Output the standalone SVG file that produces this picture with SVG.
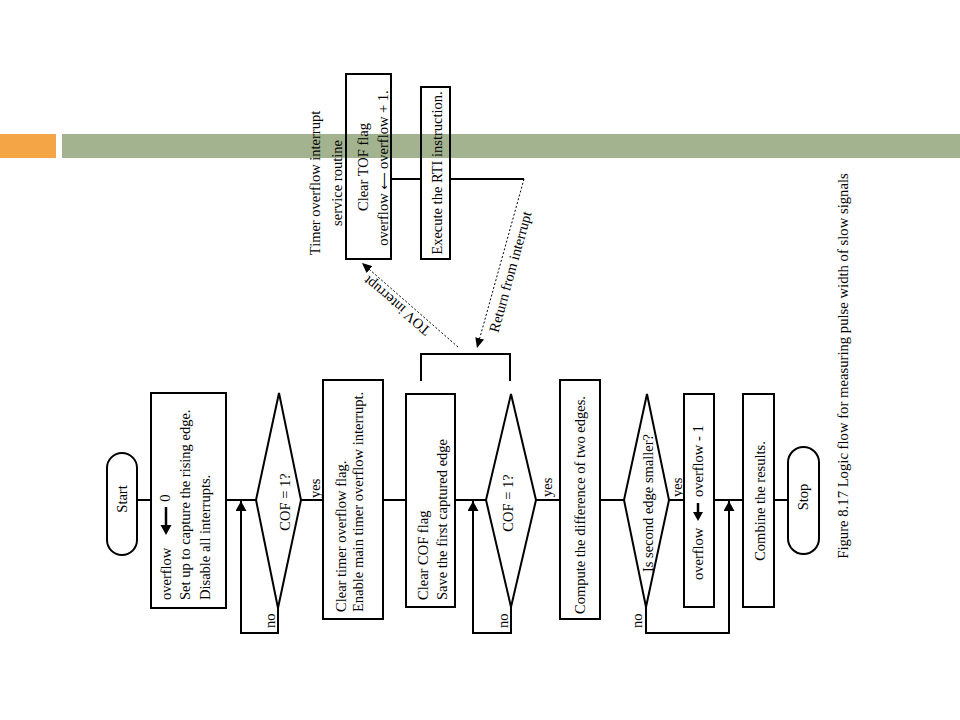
<svg xmlns="http://www.w3.org/2000/svg" width="960" height="720" viewBox="0 0 960 720">
<style>
text{font-family:"Liberation Serif","Times New Roman",serif;font-size:14.5px;fill:#000}
.m{text-anchor:middle}
.s{text-anchor:start}
.box{fill:#fff;stroke:#000;stroke-width:2}
.isr{fill:none;stroke:#000;stroke-width:2}
.ln{fill:none;stroke:#000;stroke-width:2}
.dash{fill:none;stroke:#000;stroke-width:1;stroke-dasharray:2 2}
.cap{font-size:14.7px}
.arr{font-family:"DejaVu Sans",sans-serif;font-size:12px}
</style>
<defs>
<marker id="ah" markerUnits="userSpaceOnUse" markerWidth="11" markerHeight="11" refX="10" refY="5.5" orient="auto" viewBox="0 0 11 11">
<path d="M0,0 L10,5.5 L0,11 Z" fill="#000"/>
</marker>
<marker id="ahs" markerUnits="userSpaceOnUse" markerWidth="10" markerHeight="9" refX="10" refY="4.5" orient="auto" viewBox="0 0 10 9">
<path d="M0,0 L10,4.5 L0,9 Z" fill="#000"/>
</marker>
</defs>
<rect x="0" y="134" width="56" height="24" fill="#F4A646"/>
<rect x="62" y="134" width="898" height="24" fill="#A3B38F"/>

<g id="connectors">
<path class="ln" d="M137,500 H151"/>
<path class="ln" d="M226,500 H256"/>
<path class="ln" d="M301,500 H323"/>
<path class="ln" d="M383,500 H406"/>
<path class="ln" d="M455,500 H486"/>
<path class="ln" d="M536,500 H560"/>
<path class="ln" d="M600,500 H624"/>
<path class="ln" d="M669,500 H684"/>
<path class="ln" d="M714,500 H743"/>
<path class="ln" d="M774,500 H788"/>
<path class="ln" d="M278,608 V633 H241 V501" marker-end="url(#ah)"/>
<path class="ln" d="M511,607 V633 H473 V501" marker-end="url(#ah)"/>
<path class="ln" d="M646,607 V633 H729 V501" marker-end="url(#ah)"/>
<path class="ln" d="M421,381 V354 H510 V381"/>
<path class="ln" d="M391,179 H421"/>
<path class="ln" d="M450,179 H524"/>
<path class="dash" d="M458,347 L362,263" marker-end="url(#ahs)"/>
<path class="dash" d="M524,179 L477,348" marker-end="url(#ahs)"/>
<text class="m" transform="translate(400,302) rotate(220.5)">TOV interrupt</text>
<text class="m" transform="translate(515,273) rotate(-74.5)">Return from interrupt</text>
<text class="s" transform="translate(320,498) rotate(-90)">yes</text>
<text class="s" transform="translate(275,628) rotate(-90)">no</text>
<text class="s" transform="translate(552,497) rotate(-90)">yes</text>
<text class="s" transform="translate(508,628) rotate(-90)">no</text>
<text class="s" transform="translate(682,497) rotate(-90)">yes</text>
<text class="s" transform="translate(642,628) rotate(-90)">no</text>
</g>

<g id="start">
<rect class="box" x="107" y="453" width="30" height="102" rx="15" ry="15"/>
<text class="m" transform="translate(127,499) rotate(-90)">Start</text>
</g>

<g id="init">
<rect class="box" x="151" y="393" width="75" height="215"/>
<text class="s" transform="translate(171,600) rotate(-90)">overflow</text>
<path d="M166,507 V526" stroke="#000" stroke-width="2.5"/>
<path d="M160.5,525 H171.5 L166,535 Z" fill="#000"/>
<text class="m" transform="translate(170,498) rotate(-90)">0</text>
<text class="s" transform="translate(190,600) rotate(-90)">Set up to capture the rising edge.</text>
<text class="s" transform="translate(210,600) rotate(-90)">Disable all interrupts.</text>
</g>

<g id="cof1">
<path class="box" d="M279,393 L301,500 L278,608 L256,500 Z"/>
<text class="m" transform="translate(290,502) rotate(-90)">COF = 1?</text>
</g>

<g id="enable">
<rect class="box" x="323" y="380" width="60" height="239"/>
<text class="s" transform="translate(346,612) rotate(-90)">Clear timer overflow flag.</text>
<text class="s" transform="translate(363,612) rotate(-90)">Enable main timer overflow interrupt.</text>
</g>

<g id="save">
<rect class="box" x="406" y="394" width="49" height="213"/>
<text class="s" transform="translate(428,600) rotate(-90)">Clear COF flag</text>
<text class="s" transform="translate(447,600) rotate(-90)">Save the first captured edge</text>
</g>

<g id="cof2">
<path class="box" d="M511,394 L536,500 L511,607 L486,500 Z"/>
<text class="m" transform="translate(513,503) rotate(-90)">COF = 1?</text>
</g>

<g id="compute">
<rect class="box" x="560" y="380" width="40" height="239"/>
<text class="m" transform="translate(585,505) rotate(-90)">Compute the difference of two edges.</text>
</g>

<g id="smaller">
<path class="box" d="M647,394 L669,500 L646,607 L624,500 Z"/>
<text class="m" transform="translate(653,503) rotate(-90)">Is second edge smaller?</text>
</g>

<g id="decrement">
<rect class="box" x="684" y="394" width="30" height="213"/>
<text class="s" transform="translate(703,580) rotate(-90)">overflow</text>
<path d="M698,503 V513" stroke="#000" stroke-width="2.5"/>
<path d="M693,512 H703 L698,521 Z" fill="#000"/>
<text class="s" transform="translate(703,497) rotate(-90)">overflow - 1</text>
</g>

<g id="combine">
<rect class="box" x="743" y="394" width="31" height="213"/>
<text class="m" transform="translate(765,501) rotate(-90)">Combine the results.</text>
</g>

<g id="stop">
<rect class="box" x="788" y="447" width="31" height="107" rx="15.5" ry="15.5"/>
<text class="m" transform="translate(808,497) rotate(-90)">Stop</text>
</g>

<g id="isr-title">
<text class="m" transform="translate(320,183) rotate(-90)">Timer overflow interrupt</text>
<text class="m" transform="translate(342,183) rotate(-90)">service routine</text>
</g>

<g id="isr">
<rect class="isr" x="346" y="74" width="45" height="185"/>
<text class="m" transform="translate(368,167) rotate(-90)">Clear TOF flag</text>
<text class="m" transform="translate(388,168) rotate(-90)">overflow <tspan class="arr">⟵</tspan> overflow + 1.</text>
</g>

<g id="rti">
<rect class="isr" x="421" y="87" width="29" height="172"/>
<text class="m" transform="translate(442,173) rotate(-90)">Execute the RTI instruction.</text>
</g>

<g id="caption">
<text class="m cap" transform="translate(848,366) rotate(-90)">Figure 8.17 Logic flow for measuring pulse width of slow signals</text>
</g>
</svg>
